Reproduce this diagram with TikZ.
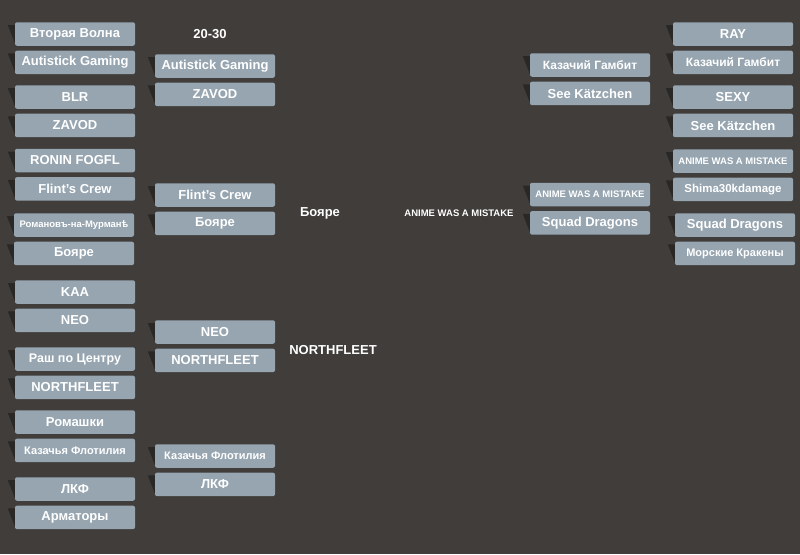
\documentclass[tikz,border=0pt]{standalone}
\usepackage{fontspec}
\setmainfont{Liberation Sans}
\usepackage{tikz}
\usetikzlibrary{positioning}
\definecolor{bgcol}{HTML}{403D3B}
\definecolor{boxcol}{HTML}{96A5B0}
\definecolor{shadowcol}{HTML}{2A2826}
\tikzstyle{team} = [rectangle, rounded corners=2pt, minimum width=120pt, minimum height=23.5pt, inner sep=1pt, text centered, fill=boxcol, text=white, font=\bfseries\fontsize{13}{15}\selectfont]
\tikzstyle{mid} = [font=\bfseries\fontsize{11.5}{13}\selectfont]
\tikzstyle{tiny} = [font=\bfseries\fontsize{9.5}{11}\selectfont]
\tikzstyle{result} = [text=white, font=\bfseries\fontsize{13}{15}\selectfont]

\begin{document}
\begin{tikzpicture}[x=1pt, y=-1pt]
	\fill[bgcol] (0,0) rectangle (800,554);
	% first round, left
	\node (left1) [team] at (75,34) {Вторая Волна};
	\node (left2) [team, below=4.5pt of left1] {Autistick Gaming};
	\node (left3) [team] at (75,97) {BLR};
	\node (left4) [team, below=4.5pt of left3] {ZAVOD};
	\node (left5) [team] at (75,160.5) {RONIN FOGFL};
	\node (left6) [team, below=4.5pt of left5] {Flint's Crew};
	\node (left7) [team, tiny] at (74,225) {Романовъ-на-Мурманѣ};
	\node (left8) [team, below=4.5pt of left7] {Бояре};
	\node (left9) [team] at (75,292) {KAA};
	\node (left10) [team, below=4.5pt of left9] {NEO};
	\node (left11) [team, font=\bfseries\fontsize{12.5}{14}\selectfont] at (75,359) {Раш по Центру};
	\node (left12) [team, below=4.5pt of left11] {NORTHFLEET};
	\node (left13) [team] at (75,422) {Ромашки};
	\node (left14) [team, font=\bfseries\fontsize{11}{13}\selectfont, below=4.5pt of left13] {Казачья Флотилия};
	\node (left15) [team] at (75,489) {ЛКФ};
	\node (left16) [team, below=4.5pt of left15] {Арматоры};

	% second round, left
	\node (mid1) [team] at (215,66) {Autistick Gaming};
	\node (mid2) [team, below=4.5pt of mid1] {ZAVOD};
	\node (mid3) [team] at (215,195) {Flint's Crew};
	\node (mid4) [team, below=4.5pt of mid3] {Бояре};
	\node (mid5) [team] at (215,332) {NEO};
	\node (mid6) [team, below=4.5pt of mid5] {NORTHFLEET};
	\node (mid7) [team, font=\bfseries\fontsize{11}{13}\selectfont] at (215,456) {Казачья Флотилия};
	\node (mid8) [team, below=4.5pt of mid7] {ЛКФ};

	% winners
	\node (score) [result] at (210,34) {20-30};
	\node (win1) [result] at (320,213) {Бояре};
	\node (win2) [result] at (333,350) {NORTHFLEET};
	\node (win3) [result, tiny] at (459,213) {ANIME WAS A MISTAKE};

	% second round, right
	\node (rmid1) [team, font=\bfseries\fontsize{12}{14}\selectfont] at (590,65) {Казачий Гамбит};
	\node (rmid2) [team, below=4.5pt of rmid1] {See Kätzchen};
	\node (rmid3) [team, tiny] at (590,194.5) {ANIME WAS A MISTAKE};
	\node (rmid4) [team, below=4.5pt of rmid3] {Squad Dragons};

	% first round, right
	\node (right1) [team] at (733,34) {RAY};
	\node (right2) [team, font=\bfseries\fontsize{12}{14}\selectfont, below=4.5pt of right1] {Казачий Гамбит};
	\node (right3) [team] at (733,97) {SEXY};
	\node (right4) [team, below=4.5pt of right3] {See Kätzchen};
	\node (right5) [team, tiny] at (733,161) {ANIME WAS A MISTAKE};
	\node (right6) [team, mid, below=4.5pt of right5] {Shima30kdamage};
	\node (right7) [team] at (735,225) {Squad Dragons};
	\node (right8) [team, font=\bfseries\fontsize{11}{13}\selectfont, below=4.5pt of right7] {Морские Кракены};

	% shadows
	\foreach \n in {left1,left2,left3,left4,left5,left6,left7,left8,left9,left10,left11,left12,left13,left14,left15,left16,mid1,mid2,mid3,mid4,mid5,mid6,mid7,mid8,rmid1,rmid2,rmid3,rmid4,right1,right2,right3,right4,right5,right6,right7,right8}
		\fill[shadowcol] (\n.north west) ++(0,3) -- ++(-7,0) -- ([yshift=3pt]\n.south west) -- cycle;
\end{tikzpicture}
\end{document}
